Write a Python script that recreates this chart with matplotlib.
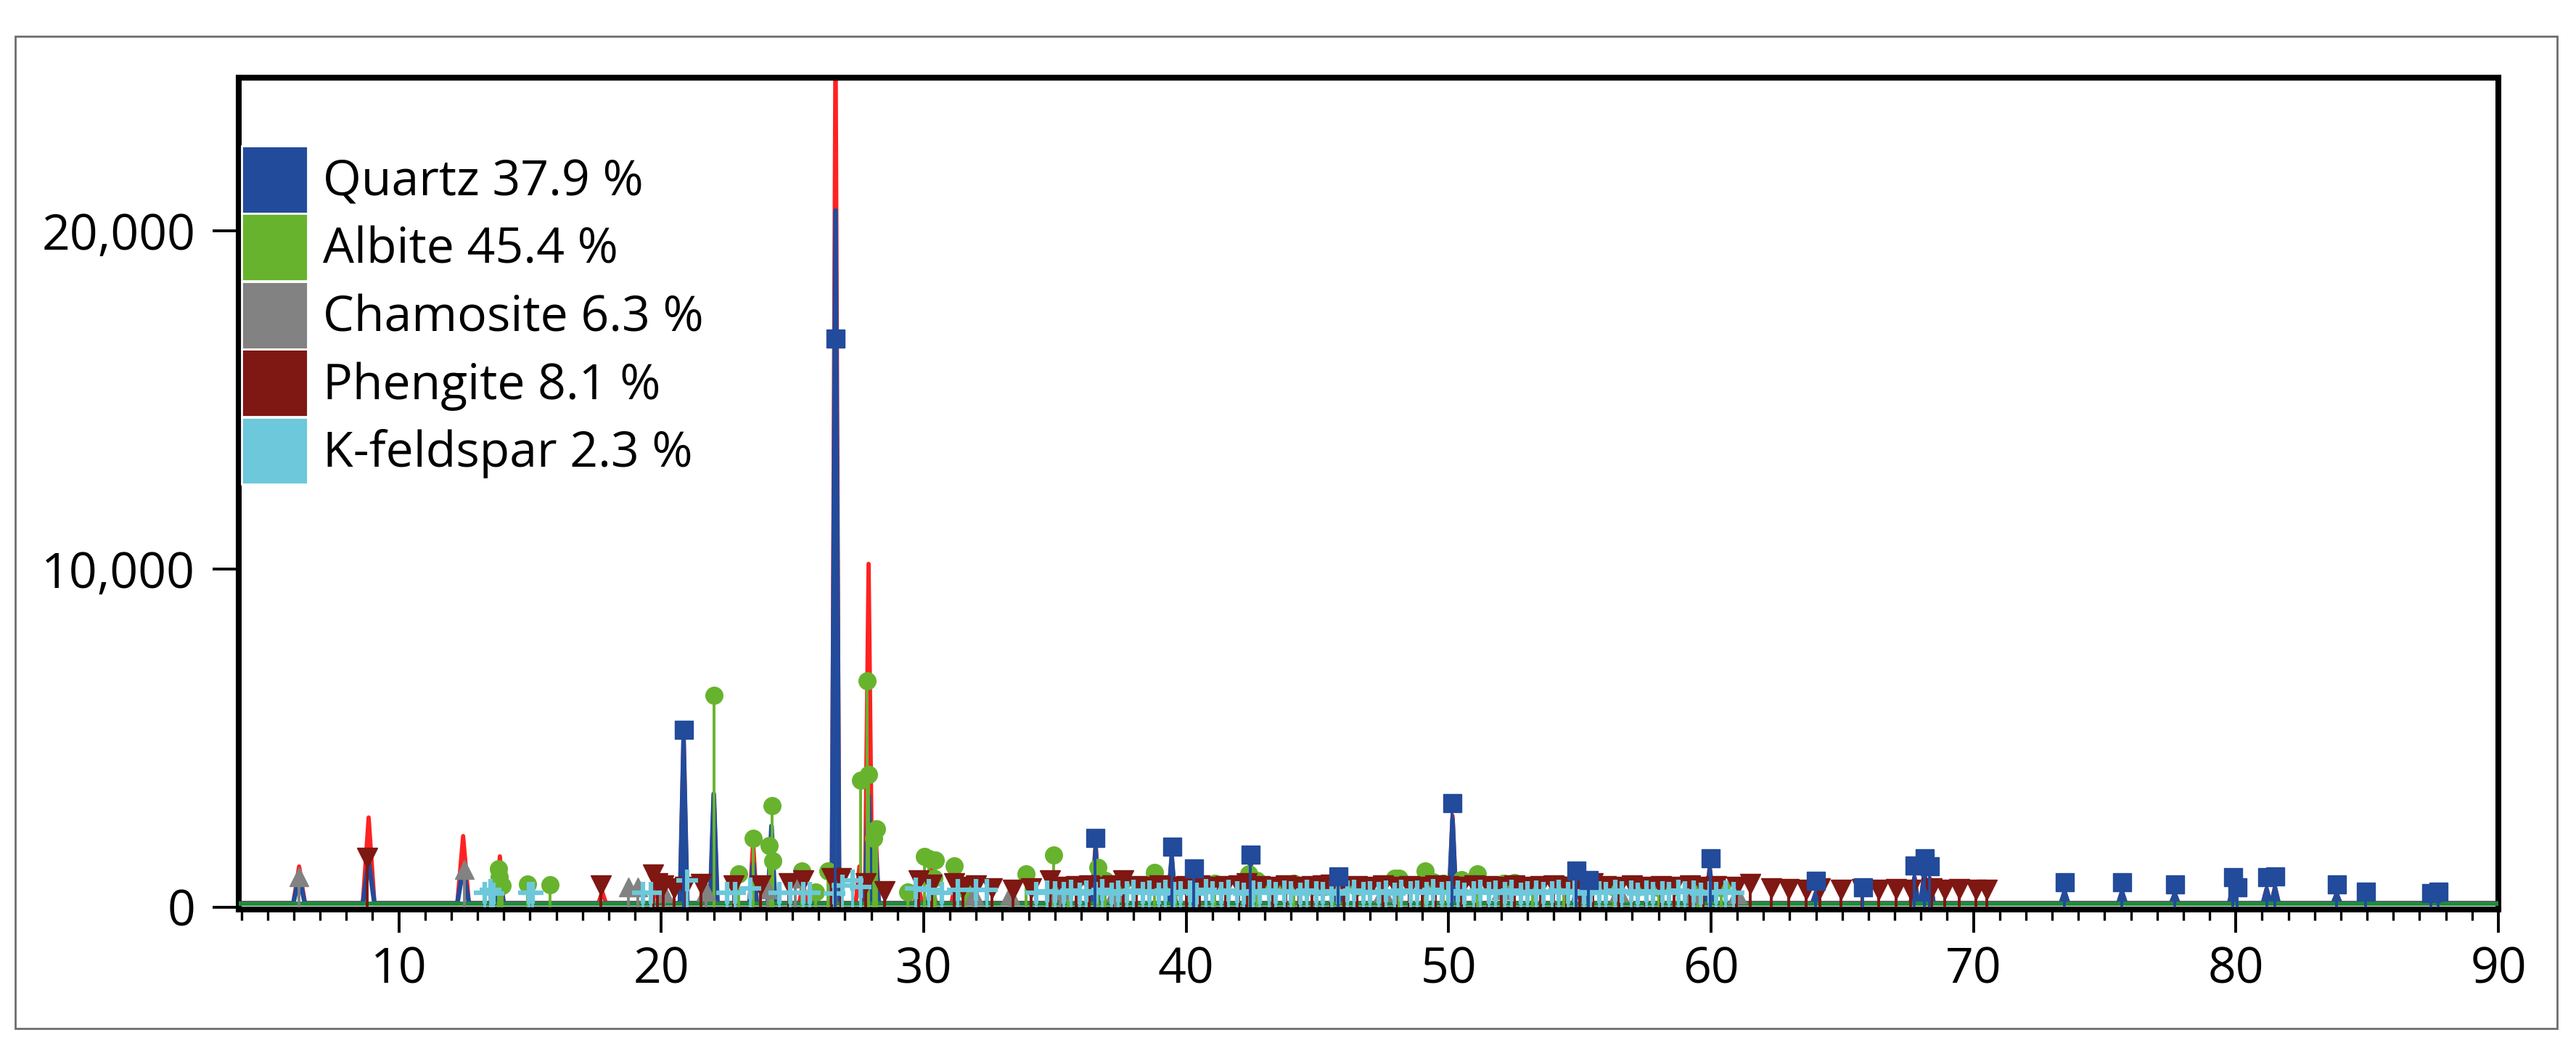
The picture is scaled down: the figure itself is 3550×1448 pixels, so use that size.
import matplotlib
matplotlib.use('Agg')
import matplotlib.pyplot as plt
from matplotlib.patches import Patch, Rectangle
from matplotlib.ticker import MultipleLocator, FuncFormatter

plt.rcParams['font.family'] = ['Open Sans', 'DejaVu Sans']

# measured pattern: peak positions (2theta) and counts
obs_pos = [6.2, 8.85, 12.45, 13.85, 17.75, 19.8, 20.85, 22.0, 23.5, 24.2, 25.4, 26.64,
           27.55, 27.9, 28.15, 29.8, 30.3, 31.2, 34.95, 36.55, 39.45, 40.3, 42.45, 45.8,
           50.15, 54.9, 55.35, 59.95, 64.0, 67.75, 68.13, 68.34, 73.47, 75.66, 77.67,
           79.88, 81.17, 81.49, 83.84]
obs_int = [1200, 2650, 2100, 1500, 450, 500, 5000, 3300, 1900, 1900, 700, 26000,
           1200, 10150, 2500, 600, 1300, 700, 900, 1900, 1500, 800, 1400, 700,
           2700, 800, 500, 1200, 450, 900, 1100, 850, 450, 450, 400,
           550, 550, 600, 400]
obs_base = 120

# calculated pattern
calc_pos = [6.2, 8.85, 12.45, 13.85, 20.85, 22.0, 23.5, 24.2, 26.64, 27.9, 28.15, 30.3,
            36.55, 39.45, 40.3, 42.45, 45.8, 50.15, 54.9, 55.35, 59.95, 64.0, 67.75,
            68.13, 68.34, 73.47, 75.66, 77.67, 79.88, 81.17, 81.49, 83.84, 84.95, 87.44, 87.7]
calc_int = [900, 1350, 1150, 900, 4950, 3350, 1300, 2400, 20600, 3300, 1900, 900,
            1700, 1500, 750, 1300, 700, 2600, 750, 450, 1100, 420, 850,
            1000, 800, 450, 450, 380, 550, 520, 550, 380, 250, 230, 260]
calc_base = 110
bg_level = 100

# phase reflection markers
qz_pos = [20.86, 26.64, 36.54, 39.47, 40.29, 42.45, 45.79, 50.14, 54.87, 55.33, 59.96,
          63.99, 65.79, 67.74, 68.14, 68.31, 73.47, 75.66, 77.67, 79.88, 80.04, 81.17,
          81.49, 83.84, 84.95, 87.44, 87.7]
qz_int = [5260, 16820, 2060, 1800, 1160, 1570, 920, 3090, 1090, 820, 1460,
          790, 600, 1250, 1460, 1220, 750, 750, 690, 900, 600, 900,
          920, 690, 470, 430, 470]

ab_pos = [13.79, 13.82, 13.95, 14.9, 15.75, 22.0, 22.94, 23.49, 24.1, 24.22, 24.24, 25.36,
          25.87, 26.34, 27.6, 27.84, 27.9, 28.08, 28.2, 29.4, 30.03, 30.2, 30.44, 30.4,
          31.15, 31.6, 33.9, 34.95, 35.5, 36.63, 36.9, 37.6, 38.8, 39.6, 41.1, 42.4, 42.7,
          43.3, 44.1, 44.6, 45.6, 46.5, 47.94, 48.1, 49.1, 49.4, 49.8, 50.5, 51.1, 52.1,
          52.5, 53.2, 54.4, 55.0, 56.3, 57.2, 58.0, 59.5, 60.4]
ab_int = [1140, 900, 640, 680, 670, 6260, 990, 2040, 1820, 3000, 1360, 1070,
          450, 1070, 3750, 6700, 3930, 2040, 2320, 450, 1500, 1440, 1390, 860,
          1220, 500, 990, 1540, 600, 1180, 790, 790, 1030, 600, 710, 990, 790,
          600, 700, 600, 650, 600, 860, 850, 1070, 750, 700, 800, 990, 700,
          720, 650, 650, 700, 600, 600, 580, 600, 580]

ch_pos = [6.2, 12.5, 18.74, 19.1, 20.1, 21.7, 24.07, 25.1, 31.9, 33.3, 35.2, 37.3,
          45.0, 47.5, 52.0, 56.5, 59.3, 61.0]
ch_int = [900, 1110, 600, 590, 430, 460, 540, 860, 360, 360, 500, 450,
          640, 450, 500, 450, 400, 380]

ph_pos = [8.8, 17.69, 19.7, 19.85, 20.07, 20.5, 20.9, 21.5, 22.75, 23.77, 24.85, 25.4,
          26.5, 26.85, 27.8, 28.5, 29.8, 30.3, 31.15, 31.5, 32.0, 32.6, 33.4, 34.1, 34.8,
          35.3, 35.8, 36.3, 36.8, 37.2, 37.6, 38.1, 38.6, 39.0, 39.5, 40.0, 40.5, 41.0,
          41.5, 42.0, 42.3, 42.8, 43.3, 43.8, 44.3, 44.8, 45.2, 45.5, 46.0, 46.5, 47.0,
          47.5, 48.0, 48.5, 49.0, 49.5, 50.0, 50.5, 51.0, 51.5, 52.0, 52.5, 53.0, 53.5,
          54.0, 54.5, 55.0, 55.5, 56.0, 56.5, 57.0, 57.5, 58.1, 58.6, 59.2, 59.7, 60.2,
          60.97, 61.5, 62.3, 62.96, 63.62, 64.15, 64.95, 65.75, 66.4, 67.05, 67.6, 68.4,
          68.9, 69.46, 70.1, 70.5]
ph_int = [1460, 640, 970, 710, 640, 560, 600, 690, 640, 640, 710, 790,
          860, 860, 700, 470, 790, 650, 700, 600, 640, 550, 500, 560, 790,
          600, 620, 640, 600, 640, 790, 620, 600, 640, 600, 620, 640, 600,
          620, 640, 700, 620, 600, 640, 600, 620, 640, 650, 600, 620, 600,
          640, 600, 620, 600, 640, 620, 600, 640, 620, 600, 640, 600, 620,
          640, 600, 620, 710, 620, 600, 640, 600, 620, 600, 640, 600, 620,
          600, 680, 560, 540, 520, 560, 520, 540, 520, 540, 520, 560,
          520, 540, 500, 520]

kf_pos = [13.27, 13.5, 13.6, 14.95, 15.1, 19.3, 19.6, 21.0, 22.5, 22.8, 23.4, 24.5,
          24.9, 25.4, 25.65, 26.6, 26.9, 27.3, 27.6, 29.7, 30.2, 30.7, 31.3, 32.0, 32.4,
          34.3, 34.7, 35.0, 35.35, 35.6, 35.95, 36.2, 36.55, 36.8, 37.15, 37.4, 37.75,
          38.0, 38.35, 38.6, 38.95, 39.2, 39.55, 39.8, 40.15, 40.4, 40.75, 41.0, 41.35,
          41.6, 41.95, 42.2, 42.55, 42.8, 43.15, 43.4, 43.75, 44.0, 44.35, 44.6, 44.95,
          45.2, 45.55, 45.8, 46.15, 46.4, 46.75, 47.0, 47.35, 47.6, 47.95, 48.2, 48.55,
          48.8, 49.15, 49.4, 49.75, 50.0, 50.35, 50.6, 50.95, 51.2, 51.55, 51.8, 52.15,
          52.4, 52.75, 53.0, 53.35, 53.6, 53.95, 54.2, 54.55, 54.8, 55.15, 55.4, 55.75,
          56.0, 56.35, 56.6, 56.95, 57.2, 57.55, 57.8, 58.15, 58.4, 58.75, 59.0, 59.35,
          59.6, 59.95, 60.2, 60.55, 60.85]
kf_int = [430, 500, 400, 430, 430, 430, 430, 790, 430, 430, 560, 430,
          430, 430, 430, 400, 640, 790, 600, 560, 500, 430, 500, 500, 500,
          430, 470, 450, 420, 480, 400, 460, 430, 500, 410, 470, 440,
          490, 420, 460, 400, 480, 430, 450, 470, 410, 500, 440, 420,
          480, 450, 400, 470, 430, 490, 420, 460, 440, 410, 480, 450,
          430, 470, 400, 460, 490, 420, 450, 430, 470, 410, 480, 440,
          460, 420, 500, 430, 450, 470, 410, 440, 480, 420, 460, 430,
          490, 410, 450, 470, 420, 440, 480, 430, 460, 400, 470, 450,
          420, 480, 440, 460, 410, 470, 430, 450, 420, 480, 440, 460,
          410, 450, 430, 470, 420]

labels = ['Quartz 37.9 %', 'Albite 45.4 %', 'Chamosite 6.3 %', 'Phengite 8.1 %', 'K-feldspar 2.3 %']
colors = ['#224B9B', '#67B32E', '#828282', '#7F1712', '#6CC8DA']


def profile(pos, hgt, base, hw=0.14):
    xs, ys = [3.9], [base]
    for p, h in sorted(zip(pos, hgt)):
        w = 0.22 if p < 13 else hw
        xs += [p - w, p, p + w]
        ys += [base, h, base]
    xs.append(90)
    ys.append(base)
    return xs, ys


fig = plt.figure(figsize=(35.5, 14.48), dpi=100)
ax = fig.add_axes([329 / 3550, 1 - 1253 / 1448, (3443 - 329) / 3550, (1253 - 107) / 1448])

ox, oy = profile(obs_pos, obs_int, obs_base)
ax.plot(ox, oy, color='#FF2222', lw=4.2, zorder=2)
cx, cy = profile(calc_pos, calc_int, calc_base)
ax.plot(cx, cy, color='#224B9B', lw=4.6, zorder=3)
ax.plot([3.9, 90], [bg_level, bg_level], color='#228B3A', lw=4.2, zorder=3.5)

phases = [
    (ab_pos, ab_int, colors[1], 'o', 17, 5),
    (ch_pos, ch_int, colors[2], '^', 19, 6),
    (ph_pos, ph_int, colors[3], 'v', 20, 7),
    (kf_pos, kf_int, colors[4], '+', 21, 8),
    (qz_pos, qz_int, colors[0], 's', 18, 9),
]
for pos, hgt, c, m, ms, z in phases:
    ax.vlines(pos, 0, hgt, colors=c, lw=2.8, zorder=z)
    if m == '+':
        ax.plot(pos, hgt, ls='none', marker=m, ms=ms, mew=4.5, color=c, zorder=z)
    else:
        ax.plot(pos, hgt, ls='none', marker=m, ms=ms, color=c, mec=c, zorder=z)

ax.set_xlim(3.9, 90)
ax.set_ylim(-70, 24530)
ax.xaxis.set_major_locator(MultipleLocator(10))
ax.xaxis.set_minor_locator(MultipleLocator(1))
ax.set_yticks([0, 10000, 20000])
ax.yaxis.set_major_formatter(FuncFormatter(lambda v, p: '{:,.0f}'.format(v)))

for s in ax.spines.values():
    s.set_linewidth(5.8)
ax.tick_params(axis='x', which='major', direction='out', length=23, width=2.8, pad=13, labelsize=49)
ax.tick_params(axis='x', which='minor', direction='out', length=11, width=2.4)
ax.tick_params(axis='y', which='major', direction='out', length=26, width=2.8, pad=17, labelsize=49)

handles = [Patch(facecolor=c, edgecolor='white', lw=2) for c in colors]
leg = ax.legend(handles, labels, loc='upper left', bbox_to_anchor=(0.0013, 0.918),
                frameon=False, fontsize=49, borderpad=0, borderaxespad=0,
                handlelength=1.34, handleheight=1.72, labelspacing=0.01, handletextpad=0.3)
leg.set_zorder(20)

fig.add_artist(Rectangle((21 / 3550, 1 - 1417 / 1448), (3524 - 21) / 3550, (1417 - 50) / 1448,
                         transform=fig.transFigure, fill=False, edgecolor='#6E6E6E', lw=2))

fig.savefig('out.png', dpi=100)
